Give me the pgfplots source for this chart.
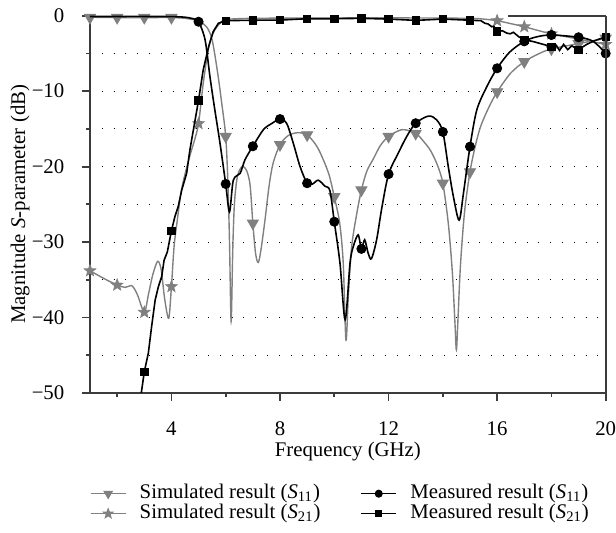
\documentclass[border=0pt]{standalone}
\usepackage{pgfplots}
\pgfplotsset{compat=1.18}
\usepackage{fontspec}
\setmainfont{Liberation Serif}

\definecolor{simgray}{RGB}{128,128,128}
\definecolor{axisgray}{RGB}{60,60,60}

% filled five-pointed star
\pgfdeclareplotmark{fstar}{%
  \pgfpathmoveto{\pgfpointpolar{90}{\pgfplotmarksize}}%
  \pgfpathlineto{\pgfpointpolar{126}{0.42\pgfplotmarksize}}%
  \pgfpathlineto{\pgfpointpolar{162}{\pgfplotmarksize}}%
  \pgfpathlineto{\pgfpointpolar{198}{0.42\pgfplotmarksize}}%
  \pgfpathlineto{\pgfpointpolar{234}{\pgfplotmarksize}}%
  \pgfpathlineto{\pgfpointpolar{270}{0.42\pgfplotmarksize}}%
  \pgfpathlineto{\pgfpointpolar{306}{\pgfplotmarksize}}%
  \pgfpathlineto{\pgfpointpolar{342}{0.42\pgfplotmarksize}}%
  \pgfpathlineto{\pgfpointpolar{18}{\pgfplotmarksize}}%
  \pgfpathlineto{\pgfpointpolar{54}{0.42\pgfplotmarksize}}%
  \pgfpathclose
  \pgfusepathqfillstroke
}

\begin{document}
\fontsize{10.4pt}{12pt}\selectfont
\begin{tikzpicture}
\begin{axis}[
  scale only axis,
  width=257.85pt, height=188.65pt,
  xmin=1, xmax=20, ymin=-50, ymax=0,
  clip mode=individual,
  axis x line*=bottom, axis y line*=left,
  axis line style={-, draw=axisgray, line width=0.9pt},
  tick align=outside,
  major tick length=4pt, minor tick length=2pt,
  every tick/.style={axisgray, line width=0.9pt},
  xtick={4,8,12,16,20}, xticklabels={4,8,12,16,20},
  minor xtick={2,6,10,14,18},
  ytick={-50,-40,...,0}, yticklabels={−50,−40,−30,−20,−10,0},
  minor ytick={-45,-40,...,-5},
  yminorgrids,
  minor grid style={black, line width=0.5pt, dash pattern=on 0.5pt off 5.4pt},
  xticklabel style={inner sep=0pt, anchor=base, yshift=-17.2pt},
  yticklabel style={inner sep=0pt, anchor=east, xshift=-8.65pt},
  xlabel={Frequency (GHz)},
  xlabel style={at={(rel axis cs:0.5,-0.1691)}, anchor=base, inner sep=0pt},
  ylabel={Magnitude \textit{S}-parameter (dB)},
  ylabel style={at={(rel axis cs:-0.126,0.5)}, anchor=base, inner sep=0pt},
  legend columns=2,
  legend image code/.code={\draw[mark repeat=2,mark phase=2,#1] plot coordinates {(0pt,0pt) (8.75pt,0pt) (17.5pt,0pt)};},
  legend style={at={(rel axis cs:0,-0.2409)}, anchor=north west, draw=none, fill=none,
    inner sep=0pt, outer sep=0pt, row sep=0.2pt,
    nodes={inner sep=0pt, text height=7.2pt, text depth=2.6pt},
    /tikz/every odd column/.append style={column sep=6.65pt},
    /tikz/every even column/.append style={column sep=20pt}},
  legend cell align=left,
]

% simulated S11
\addplot[simgray, line width=0.7pt, smooth, forget plot] coordinates {
(1,-0.2) (2,-0.25) (3,-0.25) (4,-0.25) (4.5,-0.35) (5,-0.7) (5.3,-1.5) (5.5,-3.2)
(5.7,-7.5) (5.85,-11.5) (6,-16) (6.08,-22) (6.14,-30) (6.2,-40.5) (6.26,-31)
(6.32,-25) (6.42,-21.5) (6.55,-20.2) (6.65,-20) (6.78,-20.6) (6.9,-22.5) (7,-27.5)
(7.1,-31.5) (7.2,-32.7) (7.3,-31) (7.45,-27) (7.6,-22.5) (7.75,-19.5) (8,-17.1)
(8.3,-15.9) (8.65,-15.5) (9,-15.8) (9.3,-17) (9.5,-18.3) (9.8,-21) (10,-24)
(10.2,-27.5) (10.33,-32.8) (10.43,-43) (10.52,-37) (10.64,-30.6) (10.83,-26.2)
(11,-23.1) (11.2,-20.6) (11.45,-18.9) (11.7,-17.2) (12,-16) (12.5,-15.1) (13,-15.6)
(13.3,-16.7) (13.55,-17.9) (13.8,-19.8) (14,-22.2) (14.2,-27.5) (14.35,-34)
(14.45,-41) (14.5,-44.3) (14.56,-40) (14.65,-33) (14.8,-26) (15,-20.7) (15.2,-17.2)
(15.4,-14.6) (15.7,-12.1) (16,-10.1) (16.5,-7.6) (17,-6.1) (17.5,-5.1) (18,-4.4)
(19,-3.7) (20,-3.0)
};
\addplot[simgray, only marks, mark=triangle*, mark size=3.2pt, mark options={rotate=180, fill=simgray}, forget plot] coordinates {
(1,-0.25) (2,-0.25) (3,-0.25) (4,-0.25) (6,-16) (7,-27.5) (8,-17.1) (9,-15.8)
(10,-24) (11,-23.1) (12,-16) (13,-15.6) (14,-22.2) (15,-20.7) (16,-10.1) (17,-6.1)
(18,-4.4) (19,-3.7) (20,-3.0)
};

% simulated S21
\addplot[simgray, line width=0.7pt, smooth, forget plot] coordinates {
(1,-33.8) (1.5,-34.8) (2,-35.7) (2.3,-36.0) (2.55,-35.8) (2.75,-37) (3,-39.3)
(3.15,-37) (3.3,-34.5) (3.45,-32.8) (3.53,-32.6) (3.63,-33.8) (3.75,-37.5) (3.9,-40.1)
(4,-35.9) (4.1,-30.5) (4.22,-27) (4.35,-23.5) (4.5,-21) (4.7,-18.3) (4.85,-16.5)
(5,-14.3) (5.17,-9) (5.36,-4.5) (5.5,-2.6) (5.67,-1.5) (5.85,-0.8) (6,-0.5) (7,-0.35)
(10,-0.3) (13,-0.3) (15,-0.35) (15.5,-0.45) (16,-0.66) (16.5,-1.05) (17,-1.46)
(17.5,-1.95) (18,-2.4) (19,-3.1) (20,-3.8)
};
\addplot[simgray, only marks, mark=fstar, mark size=3pt, mark options={fill=simgray}, forget plot] coordinates {
(1,-33.8) (2,-35.7) (3,-39.3) (4,-35.9) (5,-14.3) (16,-0.66) (17,-1.46) (18,-2.4)
(19,-3.1) (20,-3.8)
};

% measured S11
\addplot[black, line width=0.8pt, smooth, forget plot] coordinates {
(1,-0.1) (2,-0.1) (3,-0.1) (4,-0.12) (4.5,-0.2) (4.8,-0.4) (5,-0.8) (5.24,-3.2)
(5.42,-8.1) (5.6,-12.5) (5.79,-16.9) (6,-22.3) (6.14,-26) (6.28,-21.8) (6.53,-20.9)
(6.71,-19.1) (7,-17.3) (7.39,-15.1) (7.69,-14.3) (8,-13.7) (8.25,-14.3) (8.49,-16.9)
(8.74,-20) (9,-22.2) (9.2,-22.3) (9.41,-21.8) (9.66,-22.6) (9.84,-23.2) (10,-27.3)
(10.21,-32.8) (10.4,-40.3) (10.58,-32.8) (10.7,-30.6) (10.88,-29.05) (11,-30.9)
(11.12,-29.7) (11.25,-31.5) (11.37,-32.2) (11.56,-29.7) (11.75,-25.5) (12,-21)
(12.36,-18.2) (12.67,-16) (13,-14.25) (13.47,-13.3) (13.77,-13.8) (14,-15.4)
(14.2,-20) (14.39,-24) (14.6,-27.1) (14.76,-23.5) (15,-17.35) (15.25,-12.5)
(15.62,-9.4) (16,-6.97) (16.47,-4.8) (17,-3.4) (17.46,-2.8) (18,-2.56) (19,-2.86)
(19.54,-3.4) (20,-5.0)
};
\addplot[black, only marks, mark=*, mark size=2.3pt, forget plot] coordinates {
(5,-0.8) (6,-22.3) (7,-17.3) (8,-13.7) (9,-22.2) (10,-27.3) (11,-30.9) (12,-21)
(13,-14.25) (14,-15.4) (15,-17.35) (16,-6.97) (17,-3.4) (18,-2.56) (19,-2.86) (20,-5.0)
};

% measured S21
\addplot[black, line width=0.8pt, forget plot] coordinates {
(2.85,-51) (3,-47.2) (3.15,-44.7) (3.27,-41.2) (3.4,-37.7) (3.52,-35.9) (3.64,-34.6)
(3.73,-32.4) (3.85,-31.3) (4,-28.5) (4.13,-26.6) (4.25,-25.3) (4.38,-23.1)
(4.56,-20.9) (4.68,-17.8) (4.83,-14.7) (5,-11.2) (5.17,-7.2) (5.37,-4.1) (5.54,-2.1)
(5.73,-1.0) (6,-0.66) (7,-0.6) (8,-0.58) (9,-0.4) (10,-0.4) (11,-0.35) (12,-0.45)
(13,-0.62) (14,-0.45) (15,-0.6) (15.4,-0.66) (15.55,-1.0) (15.67,-1.1) (15.8,-1.46)
(15.88,-1.4) (16,-2.1) (16.2,-2.0) (16.35,-2.3) (16.48,-2.4) (16.6,-2.2) (16.8,-2.8)
(17,-3.2) (17.3,-3.4) (17.6,-3.7) (18,-4.1) (18.15,-3.8) (18.3,-4.6) (18.45,-3.8)
(18.6,-4.5) (18.75,-4.0) (19,-4.5) (19.3,-3.8) (19.6,-3.3) (20,-2.8)
};
\addplot[black, only marks, mark=square*, mark size=1.85pt, forget plot] coordinates {
(3,-47.2) (4,-28.5) (5,-11.2) (6,-0.66) (7,-0.6) (8,-0.58) (9,-0.4) (10,-0.4)
(11,-0.35) (12,-0.45) (13,-0.62) (14,-0.45) (15,-0.6) (16,-2.1) (17,-3.2) (18,-4.1)
(19,-4.5) (20,-2.8)
};

% frame pieces
\draw[axisgray, line width=0.9pt] (rel axis cs:1,0) -- (rel axis cs:1,1);
\draw[axisgray, line width=0.9pt] (axis cs:16.4,0) -- (axis cs:20,0);

% legend
\addlegendimage{simgray, line width=0.7pt, mark=triangle*, mark size=2.2pt, mark options={rotate=180, fill=simgray}}
\addlegendentry{Simulated result (\textit{S}\textsubscript{11})}
\addlegendimage{black, line width=0.8pt, mark=*, mark size=1.6pt}
\addlegendentry{Measured result (\textit{S}\textsubscript{11})}
\addlegendimage{simgray, line width=0.7pt, mark=fstar, mark size=2.2pt, mark options={fill=simgray}}
\addlegendentry{Simulated result (\textit{S}\textsubscript{21})}
\addlegendimage{black, line width=0.8pt, mark=square*, mark size=1.4pt}
\addlegendentry{Measured result (\textit{S}\textsubscript{21})}
\end{axis}
\pgfresetboundingbox
\path[use as bounding box] (-45pt,-70pt) rectangle (263pt,196.5pt);
\end{tikzpicture}
\end{document}
